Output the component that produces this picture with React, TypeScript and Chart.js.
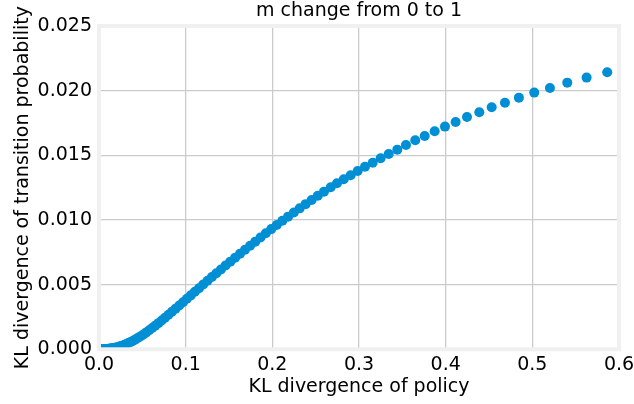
import { useEffect, useRef } from "react";
import { Chart, registerables } from "chart.js";

Chart.register(...registerables);

// KL divergence of the policy, one entry per value of m (0 -> 1)
const policyKL = [
  0, 0.00005, 0.0002, 0.00045, 0.0008, 0.00125, 0.0018, 0.00245, 0.0032, 0.00406,
  0.00501, 0.00606, 0.00721, 0.00846, 0.00982, 0.01127, 0.01282, 0.01447, 0.01623, 0.01808,
  0.02003, 0.02209, 0.02424, 0.02649, 0.02885, 0.0313, 0.03385, 0.03651, 0.03926, 0.04212,
  0.04507, 0.04813, 0.05128, 0.05454, 0.05789, 0.06135, 0.0649, 0.06856, 0.07232, 0.07617,
  0.08013, 0.08418, 0.08834, 0.0926, 0.09695, 0.10141, 0.10597, 0.11063, 0.11538, 0.12024,
  0.1252, 0.13026, 0.13542, 0.14067, 0.14603, 0.15149, 0.15705, 0.16271, 0.16847, 0.17433,
  0.18029, 0.18635, 0.19251, 0.19877, 0.20513, 0.21159, 0.21815, 0.22481, 0.23157, 0.23843,
  0.24539, 0.25245, 0.2596, 0.2674, 0.2746, 0.2824, 0.2904, 0.2985, 0.3069, 0.3158,
  0.325, 0.3343, 0.3442, 0.3542, 0.3649, 0.3758, 0.3873, 0.3992, 0.4115, 0.4246,
  0.4388, 0.4531, 0.4684, 0.4845, 0.5022, 0.5203, 0.5403, 0.5626, 0.5864,
];

// KL divergence of the transition probability for the same m values
const transitionKL = [
  0, 0, 0, 0.000001, 0.000002, 0.000004, 0.000005, 0.000007, 0.00001, 0.000012,
  0.000015, 0.000018, 0.000022, 0.000025, 0.00003, 0.000044, 0.000061, 0.000079, 0.000099, 0.000119,
  0.00014, 0.000186, 0.000233, 0.000283, 0.000335, 0.000402, 0.000483, 0.000568, 0.000656, 0.000767,
  0.000888, 0.001013, 0.001151, 0.001308, 0.001469, 0.001642, 0.00183, 0.002024, 0.00223, 0.002446,
  0.002668, 0.002902, 0.003144, 0.003391, 0.003643, 0.003903, 0.004172, 0.004447, 0.004727, 0.005014,
  0.005296, 0.005585, 0.005879, 0.006177, 0.006475, 0.006778, 0.007086, 0.007394, 0.007699, 0.008009,
  0.008325, 0.008643, 0.008967, 0.009295, 0.009614, 0.009934, 0.010258, 0.010578, 0.0109, 0.011225,
  0.011548, 0.011873, 0.01219, 0.01253, 0.01284, 0.01315, 0.01346, 0.01379, 0.01412, 0.01443,
  0.01477, 0.0151, 0.01544, 0.0158, 0.01616, 0.0165, 0.01686, 0.01722, 0.01758, 0.01797,
  0.01833, 0.01872, 0.01907, 0.01946, 0.01985, 0.02021, 0.02062, 0.02101, 0.02142,
];

const xTickValues = [0, 0.1, 0.2, 0.3, 0.4, 0.5, 0.6];
const yTickValues = [0, 0.005, 0.01, 0.015, 0.02, 0.025];

const titleText = "m change from 0 to 1";
const xLabel = "KL divergence of policy";
const yLabel = "KL divergence of transition probability";

const FONT = { family: "'DejaVu Sans', sans-serif", size: 19, weight: "normal" as const };
const TEXT = "#000000";
const GRID = "#cbcbcb";
const DOT = "#008fd5";

// light frame around the plotting area, drawn over the markers
const framePlugin = {
  id: "frame",
  afterDatasetsDraw(chart: any) {
    const { ctx, chartArea: a } = chart;
    ctx.save();
    ctx.strokeStyle = "#f0f0f0";
    ctx.lineWidth = 4;
    ctx.strokeRect(a.left, a.top, a.right - a.left, a.bottom - a.top);
    ctx.restore();
  },
};

export default function App() {
  const ref = useRef<HTMLCanvasElement | null>(null);

  useEffect(() => {
    if (!ref.current) return;
    const points = policyKL.map((x, i) => ({ x, y: transitionKL[i] }));
    const chart = new Chart(ref.current, {
      type: "scatter",
      data: {
        datasets: [
          {
            data: points,
            pointRadius: 5,
            pointHoverRadius: 5,
            pointBackgroundColor: DOT,
            pointBorderWidth: 0,
            clip: 0,
          } as any,
        ],
      },
      options: {
        responsive: false,
        animation: false,
        layout: { padding: 0 },
        plugins: {
          legend: { display: false },
          tooltip: { enabled: false },
          title: {
            display: true,
            text: titleText,
            fullSize: false,
            color: TEXT,
            font: FONT,
            padding: { top: 0, bottom: 3.2 },
          },
        },
        scales: {
          x: {
            type: "linear",
            min: 0,
            max: 0.6,
            afterBuildTicks: (s: any) => {
              s.ticks = xTickValues.map((v) => ({ value: v }));
            },
            afterFit: (s: any) => {
              s.height = 54.7;
              s.paddingLeft = 0;
              s.paddingRight = 15;
            },
            ticks: {
              callback: (v: any) => Number(v).toFixed(1),
              padding: 4,
              maxRotation: 0,
              color: TEXT,
              font: FONT,
            },
            grid: { color: GRID, lineWidth: 1.3, drawTicks: false },
            border: { display: false },
            title: {
              display: true,
              text: xLabel,
              color: TEXT,
              font: FONT,
              padding: { top: 0, bottom: 5.2 },
            },
          },
          y: {
            type: "linear",
            min: 0,
            max: 0.025,
            afterBuildTicks: (s: any) => {
              s.ticks = yTickValues.map((v) => ({ value: v }));
            },
            afterFit: (s: any) => {
              s.width = 99;
            },
            ticks: {
              callback: (v: any) => Number(v).toFixed(3),
              padding: 7,
              color: TEXT,
              font: FONT,
            },
            grid: { color: GRID, lineWidth: 1.3, drawTicks: false },
            border: { display: false },
            title: {
              display: true,
              text: yLabel,
              color: TEXT,
              font: FONT,
              padding: { top: 12, bottom: 0 },
            },
          },
        },
      },
      plugins: [framePlugin],
    });
    return () => chart.destroy();
  }, []);

  return (
    <div style={{ position: "fixed", left: 0, top: 0, width: 634, height: 404, background: "#ffffff" }}>
      <canvas ref={ref} width={634} height={404} style={{ display: "block" }} />
    </div>
  );
}
